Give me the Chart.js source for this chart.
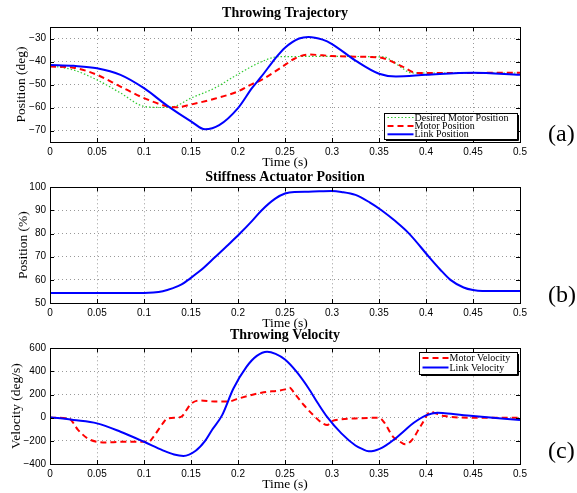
<!DOCTYPE html>
<html>
<head>
<meta charset="utf-8">
<title>Throwing</title>
<script src="https://cdn.jsdelivr.net/npm/chart.js@4.4.0/dist/chart.umd.min.js"></script>
<style>
    html, body { margin: 0; padding: 0; background: #fff; }
    body { width: 577px; height: 493px; position: relative; overflow: hidden; }
    .panel { position: absolute; left: 0; width: 577px; }
    .tag { position: absolute; left: 548px; font-family: 'Liberation Serif', serif; font-size: 24px; line-height: 24px; color: #000; }
</style>
</head>
<body>
<div class="panel" style="top:0px;height:172px"><canvas id="trajChart"></canvas></div>
<div class="panel" style="top:165px;height:168px"><canvas id="stiffChart"></canvas></div>
<div class="panel" style="top:326px;height:168px"><canvas id="velChart"></canvas></div>
<div class="tag" style="top:121px">(a)</div>
<div class="tag" style="top:282px">(b)</div>
<div class="tag" style="top:438px">(c)</div>
<script>
// asse dei tempi comune
const timeTicks = [0, 0.05, 0.1, 0.15, 0.2, 0.25, 0.3, 0.35, 0.4, 0.45, 0.5];
const timeTickLabels = ['0', '0.05', '0.1', '0.15', '0.2', '0.25', '0.3', '0.35', '0.4', '0.45', '0.5'];

// (a) Throwing Trajectory
const trajYTicks = [-30, -40, -50, -60, -70];
const desiredMotorT = [0, 0.025, 0.05, 0.075, 0.1, 0.12, 0.13, 0.15, 0.175, 0.2, 0.225, 0.243, 0.3, 0.355, 0.365, 0.375, 0.385, 0.4, 0.5];
const desiredMotorPos = [-41.8, -43.7, -48, -53.7, -59.5, -60, -59.8, -55.9, -51.6, -45.5, -40.1, -37.9, -37.8, -38, -40, -43, -45, -45, -45];
const motorPosT = [0, 0.025, 0.05, 0.075, 0.1, 0.125, 0.135, 0.15, 0.175, 0.2, 0.215, 0.225, 0.25, 0.26, 0.275, 0.3, 0.325, 0.35, 0.36, 0.375, 0.39, 0.4, 0.5];
const motorPos = [-42.2, -42.7, -45.8, -50.9, -55.9, -59.5, -59.9, -58.7, -56.2, -53, -49.8, -48, -41.5, -38.8, -37, -37.6, -37.9, -38.2, -39.4, -42.2, -45, -45, -44.9];
const linkPosT = [0, 0.025, 0.05, 0.075, 0.1, 0.125, 0.15, 0.165, 0.18, 0.2, 0.215, 0.225, 0.24, 0.25, 0.265, 0.275, 0.29, 0.3, 0.325, 0.35, 0.368, 0.4, 0.45, 0.5];
const linkPos = [-41.5, -41.9, -42.9, -45.8, -51.6, -59.3, -66, -69.5, -67.7, -60.3, -51.5, -46.5, -38.5, -34, -30, -29.3, -30.5, -32.4, -39.6, -45.3, -46.5, -45.8, -44.9, -45.8];

// (b) Stiffness Actuator Position
const stiffYTicks = [50, 60, 70, 80, 90, 100];
const stiffT = [0, 0.1, 0.11, 0.12, 0.13, 0.14, 0.147, 0.16, 0.176, 0.19, 0.202, 0.215, 0.225, 0.24, 0.25, 0.26, 0.275, 0.3, 0.31, 0.325, 0.34, 0.353, 0.367, 0.382, 0.403, 0.415, 0.426, 0.44, 0.45, 0.46, 0.5];
const stiffPos = [54.3, 54.3, 54.5, 55.1, 56.3, 58, 60, 64, 70, 75.3, 80, 85.5, 90, 95.2, 97.3, 98, 98.1, 98.4, 98, 96.7, 93.5, 90, 85.5, 80, 70, 64.5, 60, 56.7, 55.6, 55.2, 55.2];

// (c) Throwing Velocity
const velYTicks = [-400, -200, 0, 200, 400, 600];
const motorVelT = [0, 0.02, 0.03, 0.04, 0.05, 0.06, 0.075, 0.09, 0.105, 0.11, 0.12, 0.125, 0.135, 0.14, 0.15, 0.16, 0.175, 0.19, 0.2, 0.225, 0.25, 0.255, 0.26, 0.27, 0.28, 0.29, 0.295, 0.3, 0.31, 0.325, 0.35, 0.355, 0.365, 0.37, 0.378, 0.385, 0.395, 0.405, 0.41, 0.42, 0.45, 0.5];
const motorVel = [0, -6, -107, -179, -208, -214, -208, -208, -208, -165, -49, -6, 0, 10, 120, 150, 140, 140, 165, 216, 245, 260, 211, 110, 23, -49, -63, -29, -14, -6, 0, -35, -165, -193, -230, -193, -63, 52, 38, 14, 0, 0];
const linkVelT = [0, 0.025, 0.05, 0.075, 0.1, 0.12, 0.132, 0.142, 0.155, 0.165, 0.172, 0.183, 0.195, 0.209, 0.22, 0.231, 0.24, 0.25, 0.262, 0.275, 0.285, 0.295, 0.31, 0.325, 0.332, 0.339, 0.345, 0.35, 0.357, 0.366, 0.377, 0.387, 0.4, 0.412, 0.42, 0.45, 0.5];
const linkVel = [5, -20, -49, -121, -208, -282, -318, -330, -285, -200, -110, 20, 250, 440, 535, 571, 552, 503, 400, 255, 125, 5, -135, -240, -270, -290, -285, -272, -242, -189, -112, -44, 20, 43, 38, 14, -20];

const SERIF = "'Liberation Serif', 'Times New Roman', serif";
const SANS = "'Liberation Sans', Arial, sans-serif";

function points(ts, vs) {
    return ts.map((t, i) => ({ x: t, y: vs[i] }));
}

function minusSign(v) {
    return String(v).replace('-', '\u2212');
}

/**
 * Riquadro in stile MATLAB: bordo, tacche interne e legenda
 */
const matlabBox = {
    id: 'matlabBox',
    afterDraw(chart, args, opts) {
        const ctx = chart.ctx;
        const a = chart.chartArea;
        const xs = chart.scales.x, ys = chart.scales.y;
        ctx.save();
        ctx.strokeStyle = '#000';
        ctx.lineWidth = 1;
        ctx.setLineDash([]);
        ctx.strokeRect(Math.round(a.left) + 0.5, Math.round(a.top) + 0.5,
            Math.round(a.right - a.left), Math.round(a.bottom - a.top));
        ctx.beginPath();
        xs.ticks.forEach(t => {
            const px = Math.round(xs.getPixelForValue(t.value)) + 0.5;
            ctx.moveTo(px, a.bottom); ctx.lineTo(px, a.bottom - 4);
            ctx.moveTo(px, a.top); ctx.lineTo(px, a.top + 4);
        });
        ys.ticks.forEach(t => {
            const py = Math.round(ys.getPixelForValue(t.value)) + 0.5;
            ctx.moveTo(a.left, py); ctx.lineTo(a.left + 4, py);
            ctx.moveTo(a.right, py); ctx.lineTo(a.right - 4, py);
        });
        ctx.stroke();

        if (opts && opts.width) {
            const bx = Math.round(a.right - opts.right - opts.width) + 0.5;
            const by = opts.top !== undefined ? Math.round(a.top + opts.top) + 0.5
                : Math.round(a.bottom - opts.bottom - opts.height) + 0.5;
            ctx.fillStyle = '#fff';
            ctx.fillRect(bx, by, opts.width, opts.height);
            ctx.strokeStyle = '#000';
            ctx.lineWidth = 1;
            ctx.strokeRect(bx, by, opts.width, opts.height);
            ctx.beginPath();
            ctx.moveTo(bx + 1.5, by + opts.height + 1);
            ctx.lineTo(bx + opts.width + 1, by + opts.height + 1);
            ctx.lineTo(bx + opts.width + 1, by + 1.5);
            ctx.stroke();
            ctx.font = '10px ' + SERIF;
            ctx.textBaseline = 'middle';
            ctx.textAlign = 'left';
            chart.data.datasets.forEach((ds, i) => {
                const ry = by + opts.firstRow + i * opts.rowStep;
                ctx.strokeStyle = ds.borderColor;
                ctx.lineWidth = ds.borderWidth;
                ctx.setLineDash(ds.borderDash || []);
                ctx.beginPath();
                ctx.moveTo(bx + 3, ry);
                ctx.lineTo(bx + 29, ry);
                ctx.stroke();
                ctx.setLineDash([]);
                ctx.fillStyle = '#000';
                ctx.fillText(ds.label, bx + 30, ry + 0.5);
            });
        }
        ctx.restore();
    }
};

function makeChart(id, cfg) {
    const ctx = document.getElementById(id);
    if (!ctx) {
        console.error('Canvas #' + id + ' non trovato.');
        return;
    }
    new Chart(ctx, {
        type: 'line',
        data: { datasets: cfg.datasets },
        plugins: [matlabBox],
        options: {
            responsive: true,
            maintainAspectRatio: false,
            animation: false,
            layout: { padding: { left: 0, right: 57, top: 0, bottom: 0 } },
            elements: { point: { radius: 0 }, line: { cubicInterpolationMode: 'monotone', fill: false } },
            plugins: {
                legend: { display: false },
                tooltip: { enabled: false },
                title: {
                    display: true,
                    fullSize: false,
                    text: cfg.title,
                    color: '#000',
                    font: { family: SERIF, size: 14, weight: 'bold', lineHeight: 1.2 },
                    padding: cfg.titlePad
                },
                matlabBox: cfg.legend || {}
            },
            scales: {
                x: {
                    type: 'linear',
                    min: 0,
                    max: 0.5,
                    afterBuildTicks: s => { s.ticks = timeTicks.map(v => ({ value: v })); },
                    afterFit: s => { s.height = 30; },
                    grid: { color: 'rgba(0,0,0,0.4)', lineWidth: 1, drawTicks: false },
                    border: { display: false, dash: [1, 3] },
                    ticks: {
                        padding: 4, color: '#000', maxRotation: 0, autoSkip: false,
                        font: { family: SANS, size: 10 },
                        callback: (v, i) => timeTickLabels[i]
                    },
                    title: {
                        display: true, text: 'Time (s)', color: '#000',
                        font: { family: SERIF, size: 13.5 }, padding: { top: 0, bottom: 1.5 }
                    }
                },
                y: {
                    type: 'linear',
                    min: cfg.yMin,
                    max: cfg.yMax,
                    afterBuildTicks: s => { s.ticks = cfg.yTicks.map(v => ({ value: v })); },
                    afterFit: s => { s.width = 50; },
                    grid: { color: 'rgba(0,0,0,0.4)', lineWidth: 1, drawTicks: false },
                    border: { display: false, dash: [1, 3] },
                    ticks: {
                        padding: 4, color: '#000', autoSkip: false,
                        font: { family: SANS, size: 10 },
                        callback: v => minusSign(v)
                    },
                    title: {
                        display: true, text: cfg.yTitle, color: '#000',
                        font: { family: SERIF, size: 13.5 }, padding: { top: cfg.yTitlePad, bottom: 0 }
                    }
                }
            }
        }
    });
}

makeChart('trajChart', {
    title: 'Throwing Trajectory',
    titlePad: { top: 5.3, bottom: 4.9 },
    yTitle: 'Position (deg)',
    yTitlePad: 13.6,
    yMin: -75, yMax: -25, yTicks: trajYTicks,
    legend: { width: 133, height: 26, right: 3.5, bottom: 3, firstRow: 4, rowStep: 8.4 },
    datasets: [
        { label: 'Desired Motor Position', data: points(desiredMotorT, desiredMotorPos), borderColor: '#33cc33', borderWidth: 1.2, borderDash: [1.5, 2], order: 2 },
        { label: 'Motor Position', data: points(motorPosT, motorPos), borderColor: '#ff0000', borderWidth: 2, borderDash: [6, 4], order: 1 },
        { label: 'Link Position', data: points(linkPosT, linkPos), borderColor: '#0000ff', borderWidth: 2, order: 0 }
    ]
});

makeChart('stiffChart', {
    title: 'Stiffness Actuator Position',
    titlePad: { top: 3.9, bottom: 1.6 },
    yTitle: 'Position (%)',
    yTitlePad: 15.2,
    yMin: 50, yMax: 100, yTicks: stiffYTicks,
    datasets: [
        { label: 'Stiffness Position', data: points(stiffT, stiffPos), borderColor: '#0000ff', borderWidth: 2 }
    ]
});

makeChart('velChart', {
    title: 'Throwing Velocity',
    titlePad: { top: 0.9, bottom: 4.6 },
    yTitle: 'Velocity (deg/s)',
    yTitlePad: 8,
    yMin: -400, yMax: 600, yTicks: velYTicks,
    legend: { width: 98, height: 22, right: 3, top: 4, firstRow: 5.5, rowStep: 9.5 },
    datasets: [
        { label: 'Motor Velocity', data: points(motorVelT, motorVel), borderColor: '#ff0000', borderWidth: 2, borderDash: [6, 4], order: 1 },
        { label: 'Link Velocity', data: points(linkVelT, linkVel), borderColor: '#0000ff', borderWidth: 2, order: 0 }
    ]
});
</script>
</body>
</html>
